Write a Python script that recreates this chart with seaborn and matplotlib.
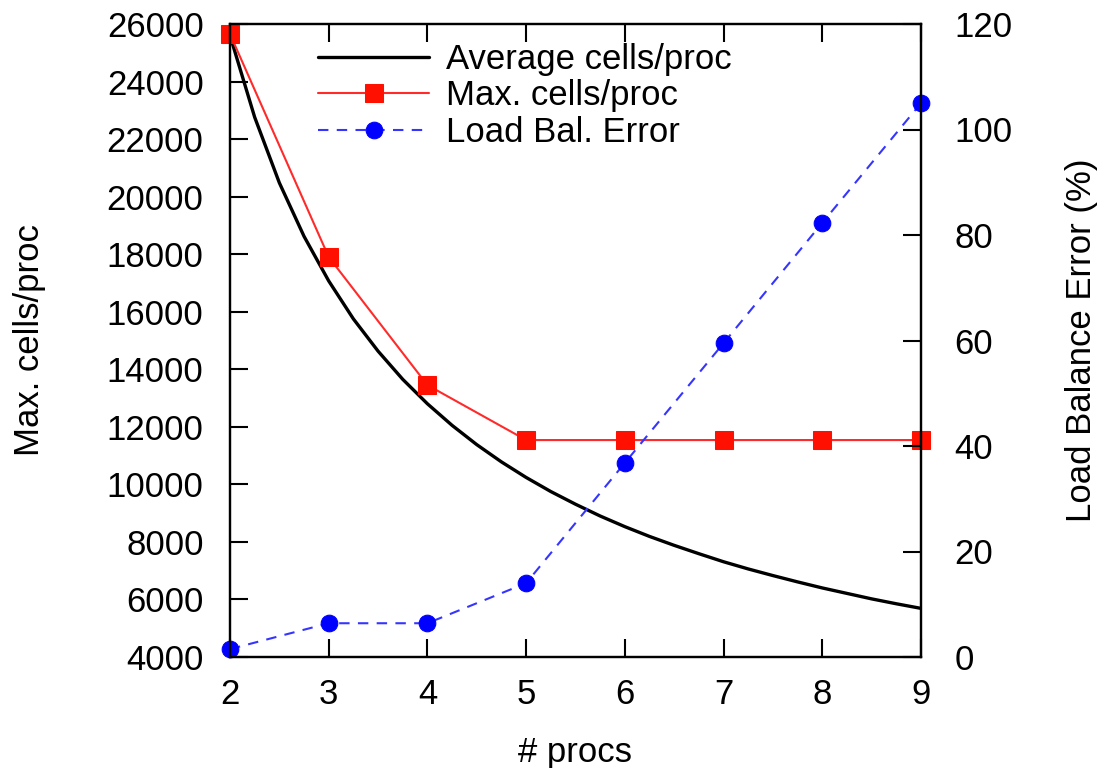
import matplotlib
matplotlib.use("Agg")
import matplotlib.pyplot as plt
import seaborn as sns
import pandas as pd

# ---- data ----
procs = [2, 3, 4, 5, 6, 7, 8, 9]
max_cells = [25650, 17900, 13450, 11540, 11540, 11540, 11540, 11540]
load_bal_error = [1.5, 6.4, 6.4, 14.0, 36.8, 59.5, 82.3, 105.0]

avg_x = [2, 2.25, 2.5, 2.75, 3, 3.25, 3.5, 3.75, 4, 4.25, 4.5, 4.75, 5, 5.25, 5.5, 5.75,
         6, 6.25, 6.5, 6.75, 7, 7.25, 7.5, 7.75, 8, 8.25, 8.5, 8.75, 9]
avg_cells = [25600, 22760, 20480, 18620, 17070, 15750, 14630, 13650, 12800, 12050, 11380,
             10780, 10240, 9750, 9310, 8900, 8530, 8190, 7880, 7590, 7310, 7060, 6830,
             6610, 6400, 6210, 6020, 5850, 5690]

x_ticks = [2, 3, 4, 5, 6, 7, 8, 9]
left_ticks = list(range(4000, 26001, 2000))
right_ticks = list(range(0, 121, 20))

sns.set_style("ticks")
plt.rcParams['font.family'] = ['Liberation Sans', 'DejaVu Sans']
plt.rcParams['text.color'] = 'black'
plt.rcParams['axes.labelcolor'] = 'black'
plt.rcParams['xtick.color'] = 'black'
plt.rcParams['ytick.color'] = 'black'

fig = plt.figure(figsize=(10.99, 7.68), dpi=100)
ax = fig.add_axes([230 / 1099, 1 - 657 / 768, 691 / 1099, 633 / 768])
ax2 = ax.twinx()

df_avg = pd.DataFrame({"x": avg_x, "y": avg_cells})
df_max = pd.DataFrame({"x": procs, "y": max_cells})
df_err = pd.DataFrame({"x": procs, "y": load_bal_error})

sns.lineplot(data=df_avg, x="x", y="y", ax=ax, color="black", linewidth=2.4,
             label="Average cells/proc", legend=False)
sns.lineplot(data=df_max, x="x", y="y", ax=ax, color="#ff2a2a", linewidth=1.5,
             marker="s", markersize=13.5, markerfacecolor="#ff1000", markeredgecolor="#ff1000",
             label="Max. cells/proc", legend=False, clip_on=False)
sns.lineplot(data=df_err, x="x", y="y", ax=ax2, color="#3535ff", linewidth=1.5,
             linestyle=(0, (5, 4)), marker="o", markersize=12,
             markerfacecolor="#0000ff", markeredgecolor="#0000ff",
             label="Load Bal. Error", legend=False, clip_on=False)

ax.set_xlim(2, 9)
ax.set_ylim(4000, 26000)
ax2.set_ylim(0, 120)
ax.set_xticks(x_ticks)
ax.set_yticks(left_ticks)
ax2.set_yticks(right_ticks)

fs = 25
for a in (ax, ax2):
    for s in a.spines.values():
        s.set_visible(True)
        s.set_linewidth(1.6)
        s.set_color("black")
ax.tick_params(axis="both", direction="in", length=13, width=1.5, labelsize=fs,
               top=True, right=False)
ax.tick_params(axis="x", pad=15)
ax.tick_params(axis="y", pad=19)
ax2.tick_params(axis="y", direction="in", length=13, width=1.5, labelsize=fs, pad=24)

ax.set_xlabel("# procs", fontsize=fs, labelpad=18)
ax.set_ylabel("Max. cells/proc", fontsize=fs, labelpad=44)
ax2.set_ylabel("Load Balance Error (%)", fontsize=fs, labelpad=38)

h1, l1 = ax.get_legend_handles_labels()
h2, l2 = ax2.get_legend_handles_labels()
leg = ax2.legend(h1 + h2, l1 + l2, loc="upper left",
                 bbox_to_anchor=(318 / 1099, 1 - 43 / 768), bbox_transform=fig.transFigure,
                 frameon=False, fontsize=fs, handlelength=3.2, handletextpad=0.5,
                 labelspacing=0.1, borderaxespad=0, borderpad=0)

fig.savefig("out.png", dpi=100)
